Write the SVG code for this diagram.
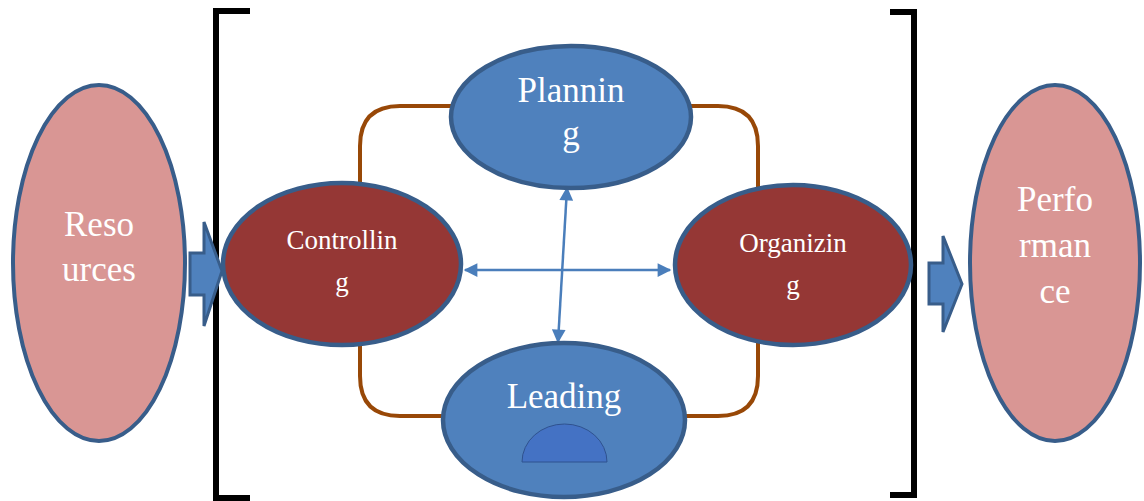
<svg xmlns="http://www.w3.org/2000/svg" width="1144" height="501" viewBox="0 0 1144 501">
  <defs>
    <marker id="ah" viewBox="0 0 10 10" refX="9" refY="5" markerWidth="6" markerHeight="5.5" orient="auto-start-reverse">
      <path d="M0 0 L10 5 L0 10 Z" fill="#4A7EBB"/>
    </marker>
    <style>
      .blue { fill: #4F81BD; stroke: #385D8A; stroke-width: 4.5; }
      .red { fill: #953735; stroke: #385D8A; stroke-width: 4.5; }
      .pink { fill: #D99694; stroke: #385D8A; stroke-width: 4; }
      .link { fill: none; stroke: #984807; stroke-width: 4; }
      .cross { fill: none; stroke: #4A7EBB; stroke-width: 2.5; marker-start: url(#ah); marker-end: url(#ah); }
      .bracket { fill: none; stroke: #000; stroke-width: 6; }
      .block { fill: #4F81BD; stroke: #385D8A; stroke-width: 3; stroke-linejoin: miter; }
      .big { font-family: "Liberation Serif", "Times New Roman", serif; font-size: 35px; fill: #fff; text-anchor: middle; }
      .small { font-family: "Liberation Serif", "Times New Roman", serif; font-size: 27px; fill: #fff; text-anchor: middle; }
    </style>
  </defs>

  <!-- brackets around the management cycle -->
  <path class="bracket" d="M250 11 H216 V498 H250"/>
  <path class="bracket" d="M890 12 H914 V495 H890"/>

  <!-- connectors -->
  <g id="connectors">
    <path class="link" d="M452 106 H400 Q360 106 360 146 V192"/>
    <path class="link" d="M690 106 H718 Q758 106 758 146 V196"/>
    <path class="link" d="M360 340 V376 Q360 416 400 416 H446"/>
    <path class="link" d="M758 340 V376 Q758 416 718 416 H684"/>
    <line class="cross" x1="465" y1="270" x2="670" y2="270"/>
    <line class="cross" x1="567" y1="188" x2="558" y2="342"/>
    <path class="block" d="M190 253 H204 V222 L222 271 L204 326 V295 H190 Z"/>
    <path class="block" d="M929 263 H943 V236 L962 284 L943 332 V304 H929 Z"/>
  </g>

  <g id="resources">
    <ellipse class="pink" cx="99" cy="263" rx="86" ry="178"/>
    <text class="big" x="99" y="236">Reso</text>
    <text class="big" x="99" y="281">urces</text>
  </g>

  <g id="performance">
    <ellipse class="pink" cx="1055" cy="263" rx="85" ry="178"/>
    <text class="big" x="1055" y="211">Perfo</text>
    <text class="big" x="1055" y="257">rman</text>
    <text class="big" x="1055" y="303">ce</text>
  </g>

  <g id="planning">
    <ellipse class="blue" cx="571" cy="117" rx="120" ry="71"/>
    <text class="big" x="571" y="102">Plannin</text>
    <text class="big" x="571" y="145">g</text>
  </g>

  <g id="controlling">
    <ellipse class="red" cx="342" cy="264" rx="119" ry="81"/>
    <text class="small" x="342" y="249">Controllin</text>
    <text class="small" x="342" y="291">g</text>
  </g>

  <g id="organizing">
    <ellipse class="red" cx="793" cy="265" rx="118" ry="80"/>
    <text class="small" x="793" y="252">Organizin</text>
    <text class="small" x="793" y="294">g</text>
  </g>

  <g id="leading">
    <ellipse class="blue" cx="564" cy="420" rx="121" ry="77"/>
    <text class="big" x="564" y="408">Leading</text>
    <path d="M522 462 A42.5 38 0 0 1 607 462 Z" fill="#4472C4" stroke="#2F528F" stroke-width="1"/>
  </g>
</svg>
